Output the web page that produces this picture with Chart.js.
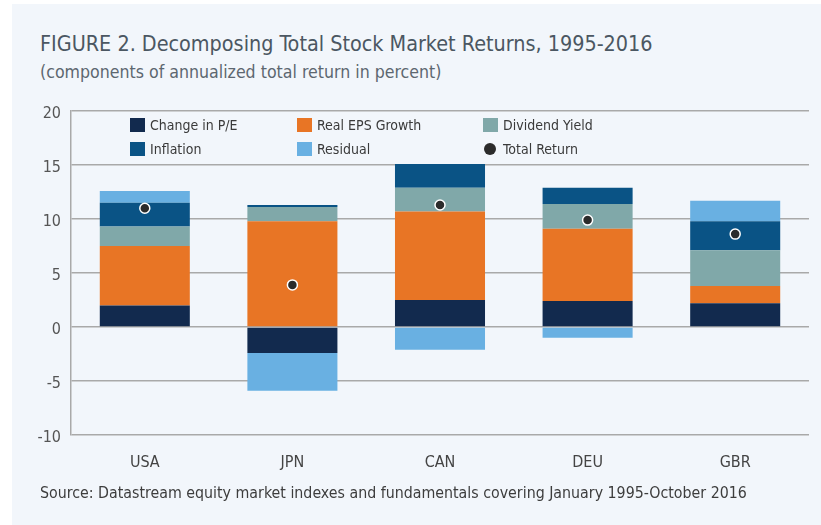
<!DOCTYPE html>
<html>
<head>
<meta charset="utf-8">
<script src="https://cdn.jsdelivr.net/npm/chart.js@4.4.1/dist/chart.umd.min.js"></script>
<style>
  html { margin: 0; padding: 0; background: #f2f6fb; }
  body { margin: 0; padding: 0; width: 821px; height: 525px; overflow: hidden; position: relative;
         font-family: "DejaVu Sans Condensed", "Liberation Sans Narrow", "DejaVu Sans", sans-serif; }
  .edge { position: absolute; background: #fff; }
  #edgeTop { left: 0; top: 0; width: 821px; height: 4px; }
  #edgeLeft { left: 0; top: 0; width: 12px; height: 525px; }
  #wrap { position: absolute; left: 0; top: 0; width: 821px; height: 525px; }
  .txt { position: absolute; left: 40px; white-space: nowrap; }
  #title { top: 31px; font-size: 21.4px; line-height: 26px; color: #4b5762; }
  #subtitle { top: 61px; font-size: 17.6px; line-height: 22px; color: #5d6770; }
  #source { top: 483px; font-size: 15.8px; line-height: 20px; color: #3d3d3d; }
  #legend { position: absolute; left: 0; top: 0; }
  .item { position: absolute; font-size: 14px; line-height: 16px; color: #3a3a3a; white-space: nowrap; }
  .box { position: absolute; width: 15px; height: 14px; }
  .dot { position: absolute; width: 12px; height: 12px; border-radius: 50%; background: #2b2b2b; }
</style>
</head>
<body>
<div class="edge" id="edgeTop"></div>
<div class="edge" id="edgeLeft"></div>
<div class="txt" id="title">FIGURE 2. Decomposing Total Stock Market Returns, 1995-2016</div>
<div class="txt" id="subtitle">(components of annualized total return in percent)</div>
<div id="wrap"><canvas id="chart" width="821" height="525"></canvas></div>
<div id="legend"></div>
<div class="txt" id="source">Source: Datastream equity market indexes and fundamentals covering January 1995-October 2016</div>
<script>
// 데이터
const categories = ["USA", "JPN", "CAN", "DEU", "GBR"];
const changePE = [2.0, -2.4, 2.5, 2.4, 2.2];
const realEPS = [5.5, 9.8, 8.2, 6.7, 1.6];
const dividendYield = [1.8, 1.3, 2.2, 2.3, 3.3];
const inflation = [2.2, 0.2, 2.2, 1.5, 2.7];
const residual = [1.1, -3.5, -2.1, -1.0, 1.9];
const totalReturn = [11.0, 3.9, 11.3, 9.9, 8.6];
const yTicks = [-10, -5, 0, 5, 10, 15, 20];

const FONT = "'DejaVu Sans Condensed', 'Liberation Sans Narrow', 'DejaVu Sans', sans-serif";

// 스택 구성 요소
const components = [
  { label: "Change in P/E", data: changePE, color: "#122a4e" },
  { label: "Real EPS Growth", data: realEPS, color: "#e87525" },
  { label: "Dividend Yield", data: dividendYield, color: "#80a8a9" },
  { label: "Inflation", data: inflation, color: "#0a5385" },
  { label: "Residual", data: residual, color: "#69b0e2" },
];

const datasets = components.map((c) => ({
  type: "bar",
  label: c.label,
  data: c.data,
  backgroundColor: c.color,
  borderWidth: 0,
  barPercentage: 1,
  categoryPercentage: 0.61,
}));

// 총수익률 점
datasets.push({
  type: "line",
  label: "Total Return",
  data: totalReturn,
  stack: "total",
  order: -1,
  showLine: false,
  pointRadius: 5,
  pointBorderWidth: 1.5,
  pointBackgroundColor: "#2b2b2b",
  pointBorderColor: "#ffffff",
});

const gridColor = "#a9a9a9";

new Chart(document.getElementById("chart"), {
  data: { labels: categories, datasets },
  options: {
    responsive: false,
    animation: false,
    devicePixelRatio: 1,
    layout: { padding: { top: 111, right: 12, left: 0, bottom: 0 } },
    plugins: { legend: { display: false }, tooltip: { enabled: false } },
    scales: {
      x: {
        stacked: true,
        grid: { display: false },
        border: { display: false },
        ticks: { color: "#444", font: { family: FONT, size: 16 }, padding: 10 },
        afterFit: (s) => { s.height = 90; },
      },
      y: {
        stacked: true,
        min: -10,
        max: 20,
        afterBuildTicks: (s) => { s.ticks = yTicks.map((v) => ({ value: v })); },
        grid: { color: gridColor, lineWidth: 1.5, drawTicks: false },
        border: { display: true, color: gridColor, width: 1.5 },
        ticks: { color: "#555", font: { family: FONT, size: 16 }, padding: 10, labelOffset: 3 },
        afterFit: (s) => { s.width = 71; },
      },
    },
  },
});

// 범례 (3열 x 2행)
const legendCols = [130, 297, 483];
const legendRows = [125, 149];
const legend = document.getElementById("legend");
const legendItems = components.map((c) => ({ label: c.label, color: c.color, dot: false }));
legendItems.push({ label: "Total Return", color: "#2b2b2b", dot: true });
legendItems.forEach((it, i) => {
  const x = legendCols[i % 3];
  const y = legendRows[Math.floor(i / 3)];
  const mark = document.createElement("div");
  if (it.dot) {
    mark.className = "dot";
    mark.style.left = x + 1 + "px";
    mark.style.top = y - 6 + "px";
  } else {
    mark.className = "box";
    mark.style.left = x + "px";
    mark.style.top = y - 7 + "px";
    mark.style.background = it.color;
  }
  legend.appendChild(mark);
  const t = document.createElement("div");
  t.className = "item";
  t.textContent = it.label;
  t.style.left = x + 20 + "px";
  t.style.top = y - 8 + "px";
  legend.appendChild(t);
});
</script>
</body>
</html>
